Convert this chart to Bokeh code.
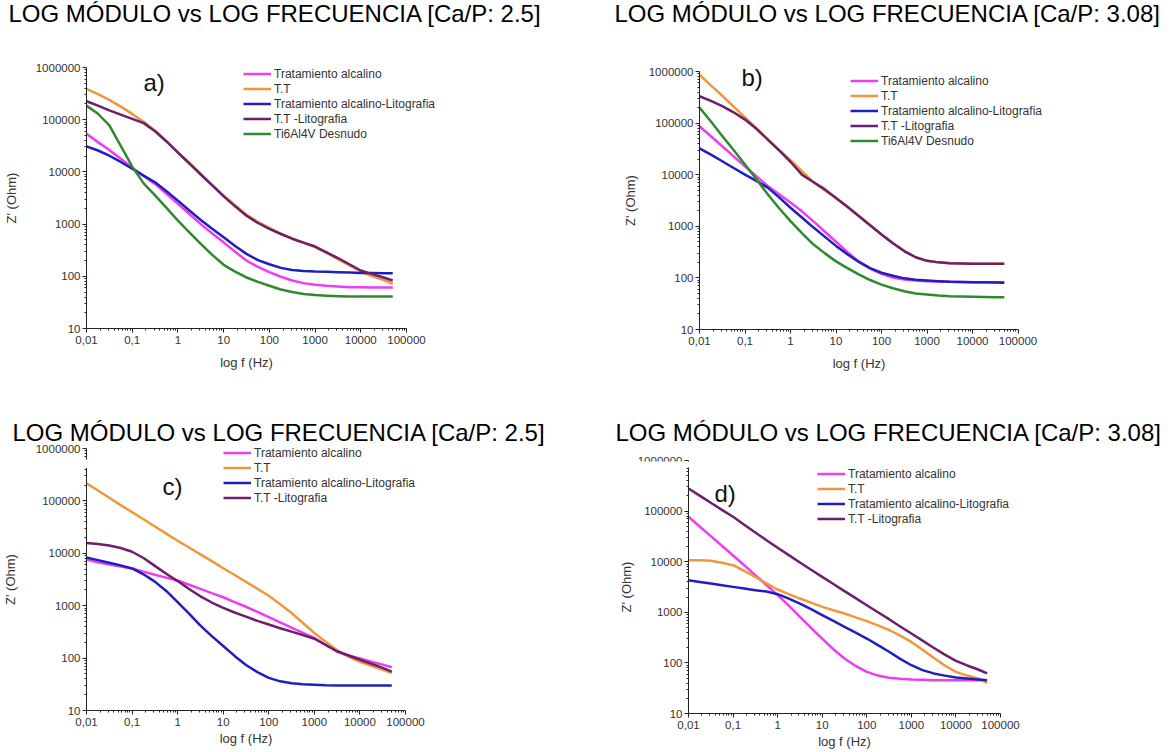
from bokeh.plotting import figure
from bokeh.models import Range1d, FixedTicker, Legend, LegendItem, Label, BoxAnnotation
from bokeh.layouts import row, column
from bokeh.embed import file_html
from bokeh.resources import INLINE

# Frequency points (Hz), a quarter decade apart, shared by every sweep
FREQ = [0.01, 0.0178, 0.0316, 0.0562, 0.1, 0.178, 0.316, 0.562, 1, 1.78, 3.16, 5.62,
        10, 17.8, 31.6, 56.2, 100, 178, 316, 562, 1000, 1780, 3160, 5620,
        10000, 17800, 31600, 50000]

NAMES = ["Tratamiento alcalino", "T.T", "Tratamiento alcalino-Litografia",
         "T.T -Litografia", "Ti6Al4V Desnudo"]
COLORS = ["#f03cf0", "#ef973a", "#1f1fbf", "#6e1f6c", "#2e8a2e"]

TITLE_25 = "LOG MÓDULO vs LOG FRECUENCIA [Ca/P: 2.5]"
TITLE_308 = "LOG MÓDULO vs LOG FRECUENCIA [Ca/P: 3.08]"

X_TICKS = [0.01, 0.1, 1, 10, 100, 1000, 10000, 100000]
X_TICK_LABELS = ["0,01", "0,1", "1", "10", "100", "1000", "10000", "100000"]
Y_TICKS = [10, 100, 1000, 10000, 100000, 1000000]
Y_TICK_LABELS = ["10", "100", "1000", "10000", "100000", "1000000"]

# |Z| (Ohm) -- a) Ca/P 2.5
A_ALCALINO = [53700, 37200, 26300, 17800, 12000, 8320, 5890, 3800, 2450, 1550, 1000, 661,
              447, 295, 200, 151, 120, 98, 83, 74, 69, 66, 64, 62, 62, 61, 61, 61]
A_TT = [389000, 309000, 240000, 178000, 129000, 91000, 61700, 38900, 24000, 14800, 9120, 5620,
        3550, 2290, 1510, 1100, 850, 660, 525, 436, 363, 282, 214, 162, 123, 100, 85, 72]
A_ALC_LITO = [30900, 25700, 20400, 15500, 11500, 8510, 6310, 4270, 2820, 1820, 1200, 813,
              562, 380, 269, 204, 170, 145, 132, 126, 123, 122, 120, 118, 116, 116, 115, 115]
A_TT_LITO = [226000, 186000, 151000, 125000, 104000, 86000, 60000, 38300, 23400, 14500, 8910, 5500,
             3390, 2190, 1450, 1050, 813, 646, 525, 442, 372, 288, 224, 170, 129, 110, 95, 83]
A_DESNUDO = [186000, 130000, 77600, 31600, 12600, 6030, 3550, 2040, 1170, 692, 417, 257,
             166, 123, 95, 78, 66, 56, 50, 46, 43.7, 42.5, 41.7, 41.2, 41, 41, 41, 41]

# |Z| (Ohm) -- b) Ca/P 3.08
B_ALCALINO = [87100, 55600, 35500, 22600, 14500, 9330, 6030, 4170, 2880, 1950, 1260, 794,
              501, 316, 209, 151, 120, 102, 93, 89, 86.5, 85, 84, 83, 82.6, 82.6, 82.6, 82.6]
B_TT = [871000, 537000, 339000, 209000, 129000, 79400, 49000, 30200, 19100, 11700, 7240, 5010,
        3550, 2400, 1580, 1050, 692, 468, 331, 251, 214, 200, 193, 191, 188, 188, 188, 188]
B_ALC_LITO = [32400, 24500, 18200, 13500, 10000, 7590, 5620, 3630, 2290, 1480, 955, 631,
              417, 288, 204, 155, 126, 110, 98, 92, 89, 86, 84, 83, 82.6, 82, 81.5, 80.2]
B_TT_LITO = [331000, 269000, 214000, 162000, 117000, 77600, 47900, 29500, 17800, 10000, 7240, 5250,
             3550, 2400, 1580, 1050, 692, 468, 331, 251, 214, 200, 193, 191, 188, 188, 188, 188]
B_DESNUDO = [200000, 107000, 56200, 30200, 15800, 8130, 4170, 2240, 1260, 741, 447, 302,
             209, 155, 117, 91, 74, 63, 55, 50, 47.9, 45.7, 44.3, 43.5, 43, 42.7, 42.4, 42.4]

# |Z| (Ohm) -- c) Ca/P 2.5
C_ALCALINO = [7590, 6760, 6100, 5620, 5130, 4470, 3890, 3430, 3020, 2510, 2090, 1740,
              1450, 1170, 955, 759, 603, 479, 380, 302, 243, 178, 132, 112, 98, 85, 75, 67]
C_TT = [216000, 158000, 115000, 83200, 61000, 44700, 32400, 23700, 17400, 12900, 9550, 7080,
        5190, 3850, 2850, 2110, 1550, 1070, 724, 468, 302, 204, 141, 107, 85, 71, 60, 52]
C_ALC_LITO = [8320, 7410, 6610, 5890, 5130, 3980, 2880, 1910, 1170, 708, 417, 263,
              170, 110, 74, 54, 42, 36, 33, 31.6, 30.9, 30.3, 30.1, 29.9, 29.9, 29.9, 29.9, 29.9]
C_TT_LITO = [15800, 15100, 14100, 12600, 10700, 8130, 5750, 4070, 2950, 2090, 1510, 1150,
             912, 741, 617, 513, 437, 372, 320, 275, 234, 178, 135, 112, 93, 78, 65, 55]

# |Z| (Ohm) -- d) Ca/P 3.08
D_ALCALINO = [77100, 49700, 32000, 20600, 13300, 8510, 5420, 3470, 2180, 1350, 813, 490,
              302, 186, 122, 87, 66.5, 56.2, 50.7, 48.4, 47, 46.2, 45.6, 45.6, 45.6, 45.6, 45.6, 45.6]
D_TT = [10700, 10700, 10400, 9550, 8530, 6610, 5010, 3720, 2820, 2290, 1870, 1550,
        1280, 1100, 946, 794, 668, 550, 447, 347, 260, 182, 126, 89, 66.5, 56.2, 49.2, 40.4]
D_ALC_LITO = [4310, 3980, 3710, 3430, 3180, 2950, 2740, 2570, 2280, 1860, 1490, 1150,
              877, 676, 516, 398, 303, 224, 166, 120, 90, 72, 62, 56, 51.4, 49, 47, 45.6]
D_TT_LITO = [280000, 202000, 146000, 106000, 77100, 53700, 37800, 26600, 18800, 13500, 9640, 6920,
             5020, 3630, 2620, 1910, 1380, 1000, 731, 525, 381, 275, 199, 146, 110, 89, 74, 62]

FONT = "Liberation Sans"
X_MINOR = [k * 10.0 ** e for e in range(-2, 5) for k in range(2, 10)]
Y_MINOR = [k * 10.0 ** e for e in range(1, 6) for k in range(2, 10)]


def make_panel(series, letter, title, geo):
    W, H = geo["size"]
    ox, oy = geo["origin"]      # pixel spot of the axes corner (0.01 Hz, 10 Ohm)
    dx, dy = geo["decade"]      # pixels per decade along x and y

    def row_value(py):
        # y-axis value sitting at pixel row py (counted from the top of the panel)
        return 10 ** (1 + (oy - py) / dy)

    x_lo, x_hi = 10 ** (-2 - ox / dx), 10 ** (-2 + (W - ox) / dx)
    p = figure(frame_width=W, frame_height=H, x_axis_type="log", y_axis_type="log",
               x_range=Range1d(x_lo, x_hi), y_range=Range1d(row_value(H), row_value(0)),
               output_backend="svg", toolbar_location=None, min_border=0)
    p.title.visible = False
    p.outline_line_color = None
    p.xgrid.visible = False
    p.ygrid.visible = False
    p.background_fill_color = "white"
    p.border_fill_color = "white"

    # axes drawn inside the canvas, limited to the plotted decades
    p.xaxis.fixed_location = 10
    p.yaxis.fixed_location = 0.01
    p.xaxis.bounds = (0.01, 100000)
    p.yaxis.bounds = (10, 1000000)
    p.xaxis.ticker = FixedTicker(ticks=X_TICKS, minor_ticks=X_MINOR)
    p.yaxis.ticker = FixedTicker(ticks=Y_TICKS, minor_ticks=Y_MINOR)
    p.xaxis.major_label_overrides = dict(zip(X_TICKS, X_TICK_LABELS))
    p.yaxis.major_label_overrides = dict(zip(Y_TICKS, Y_TICK_LABELS))
    p.xaxis.axis_label = "log f (Hz)"
    p.yaxis.axis_label = "Z' (Ohm)"
    for ax in (p.xaxis, p.yaxis):
        ax.axis_line_color = "#222222"
        ax.major_tick_line_color = "#222222"
        ax.minor_tick_line_color = "#222222"
        ax.major_tick_in = 0
        ax.major_tick_out = 4
        ax.minor_tick_in = 0
        ax.minor_tick_out = 2
        ax.major_label_text_font = FONT
        ax.major_label_text_font_size = "11.5px"
        ax.major_label_text_color = "#333333"
        ax.axis_label_text_font = FONT
        ax.axis_label_text_font_size = "13px"
        ax.axis_label_text_font_style = "normal"
        ax.axis_label_text_color = "#333333"
    p.xaxis.major_label_standoff = 3
    p.yaxis.major_label_standoff = 2
    p.xaxis.axis_label_standoff = geo["xlab"]
    p.yaxis.axis_label_standoff = geo["ylab"]

    items = []
    for (name, color, values) in series:
        r = p.line(FREQ, values, line_color=color, line_width=2.5, line_join="round")
        items.append(LegendItem(label=name, renderers=[r]))

    legend = Legend(items=items, location=geo["legend"], background_fill_alpha=0,
                    border_line_color=None, padding=0, spacing=0, margin=0,
                    glyph_width=28, glyph_height=15, label_height=15, label_standoff=3,
                    label_text_font=FONT, label_text_font_size="12px",
                    label_text_color="#333333")
    p.add_layout(legend)

    # thin blank band where the panel is overlapped by its heading
    if "strip" in geo:
        y_top, y_bottom = geo["strip"]
        p.add_layout(BoxAnnotation(left=x_lo, right=x_hi,
                                   top=row_value(y_top), bottom=row_value(y_bottom),
                                   fill_color="white", fill_alpha=1.0,
                                   line_color=None, line_alpha=0))

    lx, ly = geo["letter"]
    p.add_layout(Label(x=lx, y=H - ly, x_units="screen", y_units="screen", text=letter,
                       text_font=FONT, text_font_size="24px", text_color="#111111",
                       text_baseline="alphabetic"))
    tx, ty = geo["title"]
    p.add_layout(Label(x=tx, y=H - ty, x_units="screen", y_units="screen", text=title,
                       text_font=FONT, text_font_size="24px", text_color="#000000",
                       text_baseline="alphabetic"))
    return p


def bundle(values_list):
    return [(NAMES[i], COLORS[i], v) for i, v in enumerate(values_list)]


pa = make_panel(bundle([A_ALCALINO, A_TT, A_ALC_LITO, A_TT_LITO, A_DESNUDO]), "a)", TITLE_25,
                dict(size=(580, 380), origin=(86, 328), decade=(320 / 7, 261 / 5),
                     legend=(243, 239), letter=(143, 82), title=(8, 13), xlab=8, ylab=14))
pb = make_panel(bundle([B_ALCALINO, B_TT, B_ALC_LITO, B_TT_LITO, B_DESNUDO]), "b)", TITLE_308,
                dict(size=(595, 380), origin=(119, 329), decade=(318.5 / 7, 258 / 5),
                     legend=(270, 232), letter=(161, 77), title=(34, 13), xlab=8, ylab=8))
pc = make_panel(bundle([C_ALCALINO, C_TT, C_ALC_LITO, C_TT_LITO]), "c)", TITLE_25,
                dict(size=(580, 372), origin=(86, 330), decade=(319 / 7, 262 / 5),
                     legend=(223, 247), letter=(162, 106), title=(12, 52), xlab=2, ylab=15,
                     strip=(79, 87.5)))
pd = make_panel(bundle([D_ALCALINO, D_TT, D_ALC_LITO, D_TT_LITO]), "d)", TITLE_308,
                dict(size=(595, 372), origin=(108, 333), decade=(312 / 7, 253 / 5),
                     legend=(237, 226), letter=(134, 113), title=(35, 52), xlab=2, ylab=1,
                     strip=(81, 87)))

layout = column(row(pa, pb), row(pc, pd))

with open("out.html", "w") as f:
    f.write(file_html(layout, INLINE))
